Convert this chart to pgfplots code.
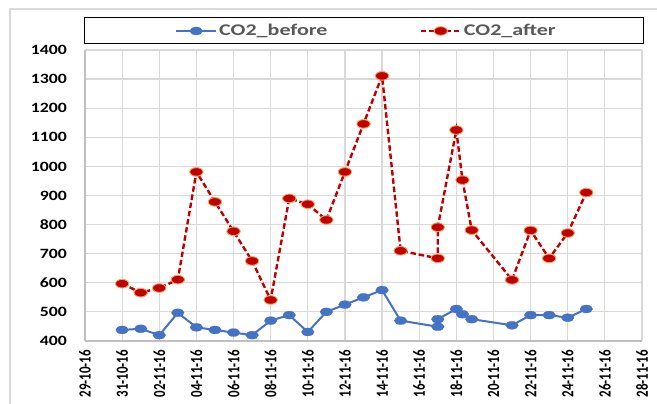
\documentclass[border=0pt]{standalone}
\usepackage{pgfplots}
\pgfplotsset{compat=1.18}
\usepackage{fontspec}
\setmainfont{Carlito}
\newfontfamily\yfont[FakeStretch=1.25]{Carlito}
\newfontfamily\xfont[FakeStretch=0.76]{Carlito}
\newfontfamily\legfont[FakeStretch=1.35]{Carlito}

\definecolor{cblue}{HTML}{4472C4}
\definecolor{cred}{HTML}{C00000}
\definecolor{corange}{HTML}{F4A261}
\definecolor{cgrid}{HTML}{D9D9D9}
\definecolor{caxis}{HTML}{BFBFBF}
\definecolor{ctext}{HTML}{595959}

\begin{document}
\begin{tikzpicture}
\path[use as bounding box] (0pt,0pt) rectangle (657pt,404pt);
% outer chart frame
\draw[cgrid, line width=1.2pt] (10pt,-5pt) -- (10pt,395pt) -- (662pt,395pt);

\begin{axis}[
  at={(85pt,63pt)}, anchor=south west,
  scale only axis, width=557pt, height=291pt,
  xmin=0, xmax=30, ymin=400, ymax=1400,
  xtick={0,2,...,30},
  xticklabels={29-10-16,31-10-16,02-11-16,04-11-16,06-11-16,08-11-16,10-11-16,12-11-16,14-11-16,16-11-16,18-11-16,20-11-16,22-11-16,24-11-16,26-11-16,28-11-16},
  ytick={400,500,...,1400},
  grid=major,
  major grid style={cgrid, line width=1.2pt},
  axis x line*=bottom, axis y line*=left,
  axis line style={caxis, line width=1.6pt},
  major tick length=0pt,
  /pgf/number format/1000 sep={},
  /pgf/number format/assume math mode=true,
  xticklabel style={font=\xfont\bfseries\fontsize{17}{17}\selectfont, rotate=90, anchor=east, inner sep=0pt},
  xticklabel shift=9pt,
  yticklabel style={font=\yfont\bfseries\fontsize{14.2}{14.2}\selectfont, anchor=east, inner sep=0pt},
  yticklabel shift=18pt,
  legend columns=2,
  legend style={at={(0.5054,1.0653)}, anchor=center, draw=none, fill=none,
    font=\legfont\bfseries\fontsize{16.3}{16.3}\selectfont, text=ctext,
    /tikz/every even column/.append style={column sep=90pt}},
  legend image code/.code={\draw[mark repeat=2, mark phase=2, #1] plot coordinates {(0pt,0pt) (20pt,0pt) (40pt,0pt)};},
]
\addplot[cblue, line width=2pt, mark=*, mark size=4pt,
  mark options={solid, xscale=1.6, fill=cblue, draw=cblue, line width=0.2pt}]
coordinates {
 (2,438) (3,442) (4,420) (5,497) (6,447) (7,438) (8,429) (9,420) (10,470)
 (11,489) (12,431) (13,500) (14,525) (15,550) (16,575) (17,470) (19,449)
 (19,475) (20,510) (20.33,492) (20.83,475) (23,454) (24,489) (25,489)
 (26,480) (27,510)
};
\addlegendentry{CO2\_before}
\addplot[cred, line width=2.4pt, dash pattern=on 5.5pt off 2.8pt, mark=*, mark size=4.3pt,
  mark options={solid, xscale=1.55, fill=cred, draw=corange, line width=0.9pt}]
coordinates {
 (2,597) (3,566) (4,582) (5,611) (6,981) (7,878) (8,777) (9,675) (10,541)
 (11,890) (12,870) (13,816) (14,981) (15,1146) (16,1311) (17,710) (19,684)
 (19,791) (20,1125) (20.33,953) (20.83,781) (23,610) (24,780) (25,684)
 (26,771) (27,910)
};
\addlegendentry{CO2\_after}
\end{axis}

% legend frame
\draw[black, line width=1pt] (84pt,386pt) rectangle (643pt,360pt);
\end{tikzpicture}
\end{document}
